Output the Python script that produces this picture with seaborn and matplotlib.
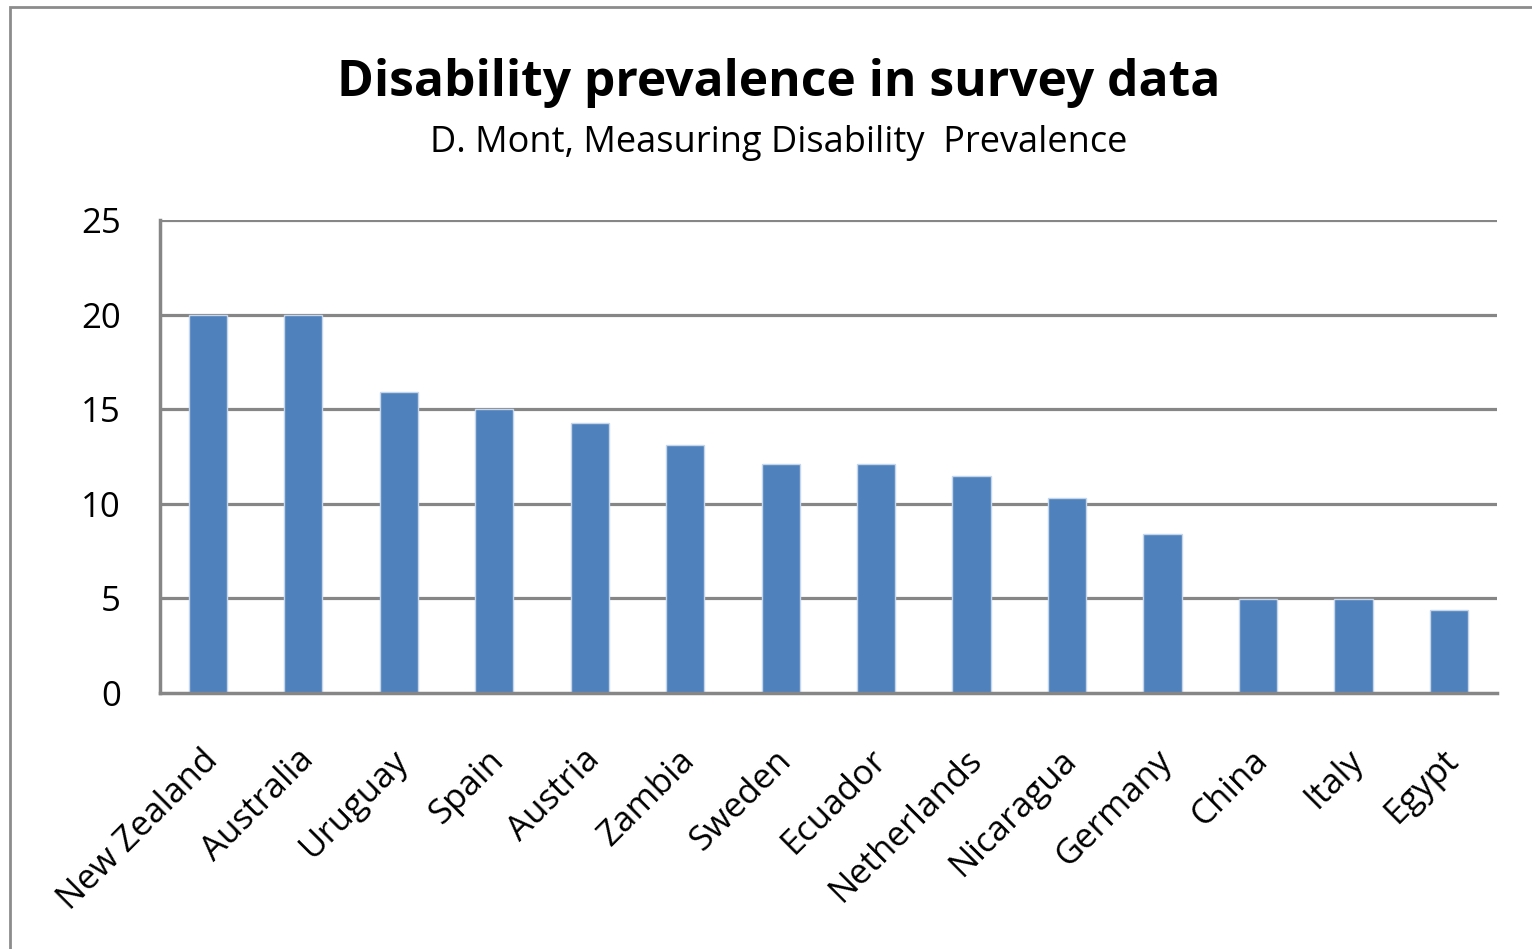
import matplotlib
matplotlib.use("Agg")
import matplotlib.pyplot as plt
from matplotlib.patches import Rectangle
from matplotlib.transforms import ScaledTranslation
import seaborn as sns
import pandas as pd

countries = ["New Zealand", "Australia", "Uruguay", "Spain", "Austria", "Zambia",
             "Sweden", "Ecuador", "Netherlands", "Nicaragua", "Germany", "China",
             "Italy", "Egypt"]
prevalence = [20.0, 20.0, 15.9, 15.0, 14.3, 13.1, 12.1, 12.1, 11.5, 10.3, 8.4, 4.95, 4.95, 4.4]
y_ticks = [0, 5, 10, 15, 20, 25]

title = "Disability prevalence in survey data"
subtitle = "D. Mont, Measuring Disability  Prevalence"

sns.set_theme(style="white")
plt.rcParams["font.family"] = ["Open Sans", "DejaVu Sans"]

df = pd.DataFrame({"country": countries, "prevalence": prevalence})

fig = plt.figure(figsize=(15.32, 9.49), dpi=100)
ax = fig.add_axes([0.1044, 0.2697, 0.977 - 0.1044, 0.768 - 0.2697])

grid_color = "#868686"
ax.set_axisbelow(True)
for t in y_ticks[1:]:
    ax.axhline(t, color=grid_color, lw=2.3, zorder=0)

sns.barplot(data=df, x="country", y="prevalence", color="#4F81BD", width=0.4,
            saturation=1, edgecolor="#c5d6ea", linewidth=1, ax=ax, zorder=2)

ax.set_ylim(0, 25)
ax.set_xlim(-0.5, len(countries) - 0.5)
ax.set_yticks(y_ticks)
ax.set_yticklabels([str(t) for t in y_ticks], fontsize=25, color="black")
ax.set_xlabel("")
ax.set_ylabel("")
ax.tick_params(axis="both", length=0)
ax.tick_params(axis="y", pad=28)
ax.tick_params(axis="x", pad=36)
ax.set_xticks(range(len(countries)))
ax.set_xticklabels(countries, rotation=45, ha="right", rotation_mode="anchor",
                   fontsize=25, color="black")
shift = ScaledTranslation(-7 / 100, 0, fig.dpi_scale_trans)
for lbl in ax.get_xticklabels():
    lbl.set_transform(lbl.get_transform() + shift)

for side in ["top", "right"]:
    ax.spines[side].set_visible(False)
for side in ["left", "bottom"]:
    ax.spines[side].set_color(grid_color)
    ax.spines[side].set_linewidth(2.5)

fig.text(0.508, 0.913, title, ha="center", va="center", fontsize=35.8,
         fontweight="bold", color="black")
fig.text(0.508, 0.849, subtitle, ha="center", va="center", fontsize=26,
         color="black")

# chart border
fig.patches.append(Rectangle((10 / 1532, -0.05), 1.2, 1 - 7 / 949 + 0.05,
                             transform=fig.transFigure, fill=False,
                             edgecolor="#8c8c8c", linewidth=2))

fig.savefig("out.png", dpi=100)
